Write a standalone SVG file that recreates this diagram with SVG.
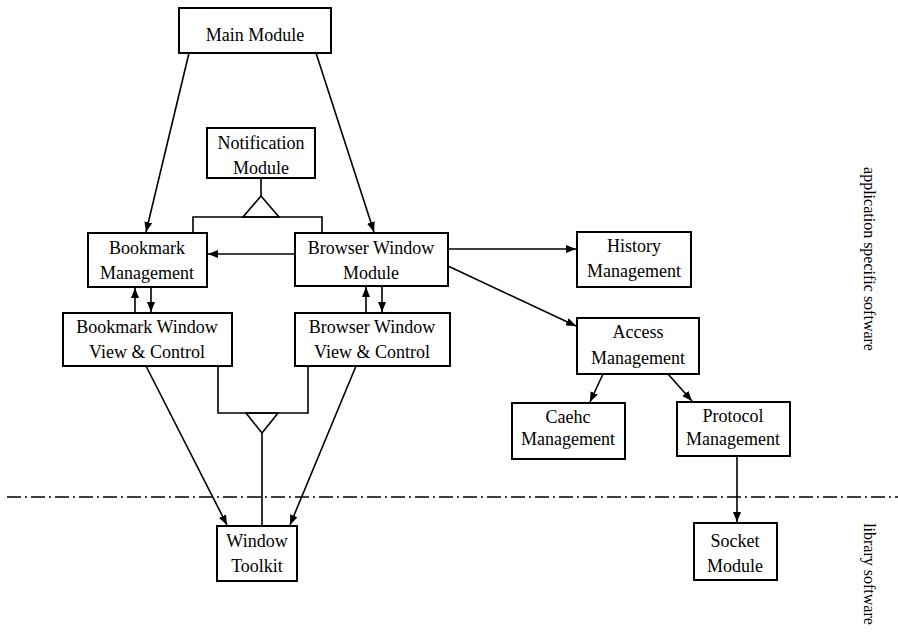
<svg xmlns="http://www.w3.org/2000/svg" width="898" height="638" viewBox="0 0 898 638">
<style>
.box{fill:#fff;stroke:#000;stroke-width:2}
.t{font-family:"Liberation Serif","Times New Roman",serif;font-size:18px;fill:#000;text-anchor:middle}
.side{font-family:"Liberation Serif","Times New Roman",serif;font-size:16px;fill:#000;text-anchor:middle}
.c{fill:none;stroke:#000;stroke-width:1.6}
.a{marker-end:url(#ah)}
</style>
<defs>
<marker id="ah" viewBox="0 0 10 8" refX="10" refY="4" markerWidth="10" markerHeight="8" markerUnits="userSpaceOnUse" orient="auto">
<path d="M0,0 L10,4 L0,8 Z" fill="#000"/>
</marker>
</defs>
<rect width="898" height="638" fill="#fff"/>
<g id="connectors">
<line class="c a" x1="189" y1="53" x2="146" y2="232"/>
<line class="c a" x1="316" y1="53" x2="374" y2="232"/>
<line class="c" x1="261" y1="178" x2="261" y2="196"/>
<polygon class="c" points="261,196 243,217 279,217"/>
<polyline class="c" points="193,233 193,217 322,217 322,233"/>
<line class="c a" x1="295" y1="254" x2="208" y2="254"/>
<line class="c a" x1="448" y1="249" x2="576" y2="249"/>
<line class="c a" x1="448" y1="266" x2="576" y2="326"/>
<line class="c a" x1="135" y1="313" x2="135" y2="288"/>
<line class="c a" x1="151" y1="287" x2="151" y2="312"/>
<line class="c a" x1="366" y1="313" x2="366" y2="287"/>
<line class="c a" x1="382" y1="286" x2="382" y2="312"/>
<line class="c a" x1="603" y1="374" x2="590" y2="402"/>
<line class="c a" x1="668" y1="374" x2="692" y2="401"/>
<polyline class="c" points="218,366 218,413 308,413 308,366"/>
<polygon class="c" points="246,413 278,413 262,433"/>
<line class="c" x1="262" y1="433" x2="262" y2="526"/>
<line class="c a" x1="146" y1="366" x2="227" y2="525"/>
<line class="c a" x1="356" y1="366" x2="290" y2="525"/>
<line class="c a" x1="737" y1="456" x2="737" y2="522"/>
<line x1="7" y1="497" x2="898" y2="497" stroke="#000" stroke-width="1.6" stroke-dasharray="14 4 2 4"/>
</g>
<g id="main-module"><rect class="box" x="179" y="8" width="152" height="45"/><text class="t" x="255" y="41">Main Module</text></g>
<g id="notification-module"><rect class="box" x="207" y="128" width="108" height="50"/><text class="t" x="261" y="149">Notification</text><text class="t" x="261" y="174">Module</text></g>
<g id="bookmark-management"><rect class="box" x="88" y="233" width="119" height="54"/><text class="t" x="147" y="254">Bookmark</text><text class="t" x="147" y="279">Management</text></g>
<g id="browser-window-module"><rect class="box" x="295" y="233" width="153" height="53"/><text class="t" x="371" y="254">Browser Window</text><text class="t" x="371" y="279">Module</text></g>
<g id="history-management"><rect class="box" x="577" y="232" width="114" height="55"/><text class="t" x="634" y="252">History</text><text class="t" x="634" y="277">Management</text></g>
<g id="bookmark-window-vc"><rect class="box" x="63" y="313" width="169" height="53"/><text class="t" x="147" y="333">Bookmark Window</text><text class="t" x="147" y="358">View &amp; Control</text></g>
<g id="browser-window-vc"><rect class="box" x="295" y="313" width="155" height="53"/><text class="t" x="372" y="333">Browser Window</text><text class="t" x="372" y="358">View &amp; Control</text></g>
<g id="access-management"><rect class="box" x="577" y="318" width="122" height="56"/><text class="t" x="638" y="338">Access</text><text class="t" x="638" y="364">Management</text></g>
<g id="cache-management"><rect class="box" x="512" y="403" width="113" height="56"/><text class="t" x="568" y="423">Caehc</text><text class="t" x="568" y="445">Management</text></g>
<g id="protocol-management"><rect class="box" x="677" y="402" width="113" height="54"/><text class="t" x="733" y="422">Protocol</text><text class="t" x="733" y="445">Management</text></g>
<g id="window-toolkit"><rect class="box" x="217" y="526" width="80" height="55"/><text class="t" x="257" y="547">Window</text><text class="t" x="257" y="572">Toolkit</text></g>
<g id="socket-module"><rect class="box" x="694" y="523" width="83" height="57"/><text class="t" x="735" y="547">Socket</text><text class="t" x="735" y="572">Module</text></g>
<g id="labels">
<text class="side" transform="translate(864,259) rotate(90)">application specific software</text>
<text class="side" transform="translate(864,574) rotate(90)">library software</text>
</g>
</svg>
